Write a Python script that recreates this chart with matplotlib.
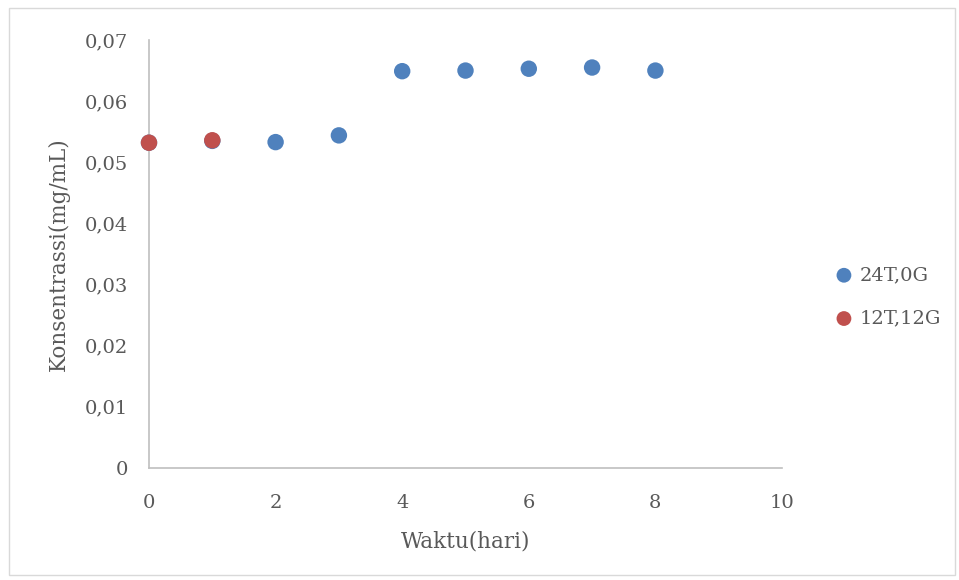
import matplotlib
matplotlib.use("Agg")
import matplotlib.pyplot as plt
from matplotlib.ticker import FuncFormatter, MultipleLocator
from matplotlib.patches import Rectangle

days_a = [0, 1, 2, 3, 4, 5, 6, 7, 8]
conc_a = [0.0532, 0.0535, 0.0533, 0.0544, 0.0649, 0.0650, 0.0653, 0.0655, 0.0650]
days_b = [0, 1]
conc_b = [0.0532, 0.0536]
labels = ["24T,0G", "12T,12G"]
colors = ["#4F81BD", "#C0504D"]

plt.rcParams['font.family'] = ['DejaVu Serif']
txt = "#595959"

fig = plt.figure(figsize=(9.59, 5.8), dpi=100)
fig.patches.append(Rectangle((9/959, 5/580), 946/959, 567/580, transform=fig.transFigure,
                             fill=False, edgecolor="#D9D9D9", linewidth=1.0))
ax = fig.add_axes([149/959, 1-468/580, (782-149)/959, (468-40)/580])

ax.scatter(days_a, conc_a, s=140, color=colors[0], label=labels[0], zorder=3, edgecolors='none')
ax.scatter(days_b, conc_b, s=140, color=colors[1], label=labels[1], zorder=4, edgecolors='none')

ax.set_xlim(0, 10)
ax.set_ylim(0, 0.07)
ax.xaxis.set_major_locator(MultipleLocator(2))
ax.yaxis.set_major_locator(MultipleLocator(0.01))
ax.yaxis.set_major_formatter(FuncFormatter(lambda v, p: "0" if abs(v) < 1e-9 else f"{v:.2f}".replace(".", ",")))
for s in ["top", "right"]:
    ax.spines[s].set_visible(False)
for s in ["left", "bottom"]:
    ax.spines[s].set_color("#BFBFBF")
    ax.spines[s].set_linewidth(1.2)
ax.tick_params(length=0, labelsize=14, colors=txt)
ax.tick_params(axis="x", pad=19)
ax.tick_params(axis="y", pad=15)
ax.set_xlabel("Waktu(hari)", fontsize=15.5, color=txt, labelpad=13)
ax.set_ylabel("Konsentrassi(mg/mL)", fontsize=15.5, color=txt, labelpad=11)
for c in ax.collections:
    c.set_clip_on(False)

leg = fig.legend(loc="center left", bbox_to_anchor=(807/959, 1-297/580), frameon=False,
                 fontsize=14, handletextpad=-0.2, markerscale=0.9, labelspacing=1.3,
                 labelcolor=txt)
fig.savefig("out.png", dpi=100)
